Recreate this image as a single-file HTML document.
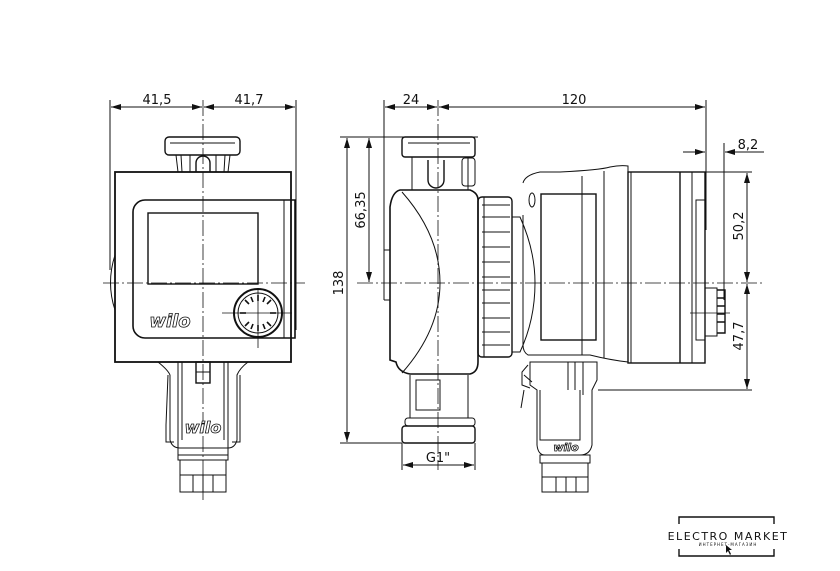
<!DOCTYPE html>
<html><head><meta charset="utf-8"><style>
html,body{margin:0;padding:0;background:#fff;}
svg{display:block;}
text{font-family:"DejaVu Sans","Liberation Sans",sans-serif;fill:#111;}
</style></head><body>
<svg width="840" height="571" viewBox="0 0 840 571" xmlns="http://www.w3.org/2000/svg">
<defs>
<marker id="a" viewBox="0 0 10 6" refX="10" refY="3" markerWidth="10" markerHeight="6" orient="auto-start-reverse" markerUnits="userSpaceOnUse"><path d="M0,0 L10,3 L0,6 z" fill="#111"/></marker>
</defs>
<g stroke="#111" fill="none" stroke-width="1">
<!-- ===== LEFT VIEW ===== -->
<line x1="110" y1="100" x2="110" y2="270"/>
<line x1="296" y1="100" x2="296" y2="330"/>
<line x1="111" y1="107" x2="202" y2="107" marker-start="url(#a)" marker-end="url(#a)"/>
<line x1="204" y1="107" x2="295" y2="107" marker-start="url(#a)" marker-end="url(#a)"/>
<line x1="203" y1="100" x2="203" y2="500" stroke-dasharray="16,3,2,3" stroke-width="0.8"/>
<line x1="103" y1="283" x2="305" y2="283" stroke-dasharray="16,3,2,3" stroke-width="0.8"/>
<!-- top nut -->
<rect x="165" y="137" width="75" height="18" rx="4" stroke-width="1.4"/>
<line x1="170" y1="143" x2="235" y2="143"/>
<path d="M176 155 L178 172 M181 155 L182 172 M225 155 L224 172 M230 155 L228 172 M190 155 V172 M216 155 V172" />
<path d="M196 172 V163 a7 7 0 0 1 14 0 V172" stroke-width="1.4"/>
<!-- main box -->
<rect x="115" y="172" width="176" height="190" stroke-width="1.8"/>
<path d="M145 200 H295 V338 H145 a12 12 0 0 1 -12 -12 V212 a12 12 0 0 1 12 -12 z" stroke-width="1.6"/>
<line x1="284" y1="200" x2="284" y2="338"/>
<rect x="148" y="213" width="110" height="71" stroke-width="1.4"/>
<path d="M115 255 Q106 283 115 310" />
<circle cx="258" cy="313" r="24" stroke-width="2"/>
<circle cx="258" cy="313" r="20"/>
<g stroke-width="1.6">
<line x1="258" y1="295" x2="258" y2="301"/><line x1="258" y1="325" x2="258" y2="331"/>
<line x1="240" y1="313" x2="246" y2="313"/><line x1="270" y1="313" x2="276" y2="313"/>
<line x1="245" y1="300" x2="249" y2="304"/><line x1="267" y1="322" x2="271" y2="326"/>
<line x1="271" y1="300" x2="267" y2="304"/><line x1="249" y1="322" x2="245" y2="326"/>
<line x1="251" y1="297" x2="253" y2="302"/><line x1="263" y1="324" x2="265" y2="329"/>
<line x1="265" y1="297" x2="263" y2="302"/><line x1="253" y1="324" x2="251" y2="329"/>
</g>
<line x1="222" y1="313" x2="292" y2="313" stroke-width="0.8"/>
<line x1="258" y1="290" x2="258" y2="348" stroke-width="0.8"/>
<!-- bottom connector -->
<path d="M158 362 Q168 370 170 375 V440 Q172 448 180 448 H228 Q235 448 237 440 V375 Q240 368 248 362"/>
<path d="M168 375 L166 425 V442 H174 M240 375 L240 425 V442 H232"/>
<path d="M178 362 V455 M228 362 V455 M182 362 V440 M224 362 V440"/>
<rect x="196" y="362" width="14" height="21" stroke-width="1.4"/>
<line x1="196" y1="372" x2="210" y2="372"/>
<rect x="178" y="455" width="50" height="5"/>
<rect x="180" y="460" width="46" height="32"/>
<path d="M180 475 H226 M193 475 V492 M203 475 V492 M213 475 V492"/>
<!-- ===== RIGHT VIEW ===== -->
<line x1="384" y1="100" x2="384" y2="300"/>
<line x1="438" y1="100" x2="438" y2="470" stroke-dasharray="16,3,2,3" stroke-width="0.8"/>
<line x1="706" y1="100" x2="706" y2="230"/>
<line x1="385" y1="107" x2="437" y2="107" marker-start="url(#a)" marker-end="url(#a)"/>
<line x1="439" y1="107" x2="705" y2="107" marker-start="url(#a)" marker-end="url(#a)"/>
<line x1="340" y1="137" x2="478" y2="137"/>
<line x1="340" y1="443" x2="402" y2="443"/>
<line x1="347" y1="138" x2="347" y2="442" marker-start="url(#a)" marker-end="url(#a)"/>
<line x1="369" y1="138" x2="369" y2="282" marker-start="url(#a)" marker-end="url(#a)"/>
<line x1="357" y1="283" x2="765" y2="283" stroke-dasharray="16,3,2,3" stroke-width="0.8"/>
<line x1="724" y1="143" x2="724" y2="300"/>
<line x1="683" y1="152" x2="705" y2="152" marker-end="url(#a)"/>
<line x1="764" y1="152" x2="725" y2="152" marker-end="url(#a)"/>
<line x1="690" y1="172" x2="752" y2="172"/>
<line x1="598" y1="390" x2="752" y2="390"/>
<line x1="747" y1="173" x2="747" y2="282" marker-start="url(#a)" marker-end="url(#a)"/>
<line x1="747" y1="284" x2="747" y2="389" marker-start="url(#a)" marker-end="url(#a)"/>
<line x1="402" y1="443" x2="402" y2="470"/>
<line x1="475" y1="443" x2="475" y2="470"/>
<line x1="403" y1="465" x2="474" y2="465" marker-start="url(#a)" marker-end="url(#a)"/>
<!-- top nut -->
<rect x="402" y="137" width="73" height="20" rx="3" stroke-width="1.4"/>
<line x1="408" y1="143" x2="470" y2="143"/>
<path d="M412 157 V190 M468 157 V190"/>
<path d="M428 160 V180 a8 8 0 0 0 16 0 V160" stroke-width="1.4"/>
<rect x="462" y="158" width="13" height="28" rx="3"/>
<!-- body -->
<path d="M400 190 H470 Q478 193 478 200 V362 Q478 372 470 374 H410 Q398 372 396 362 L390 360 V207 Q392 192 400 190 z" stroke-width="1.6"/>
<path d="M402 192 Q440 235 440 283 Q440 330 402 373"/>
<line x1="384" y1="250" x2="390" y2="250"/><line x1="384" y1="300" x2="390" y2="300"/>
<!-- ring -->
<rect x="478" y="197" width="34" height="160" rx="4" stroke-width="1.4"/>
<path d="M482 205 H510 M482 217 H510 M482 232 H510 M482 247 H510 M482 262 H510 M482 277 H510 M482 290 H510 M482 303 H510 M482 318 H510 M482 332 H510 M482 345 H510"/>
<line x1="484" y1="197" x2="484" y2="357"/>
<!-- flange / motor -->
<path d="M512 217 H520 Q535 250 535 283 Q535 320 520 352 H512"/>
<path d="M523 183 Q525 175 540 172 H560 Q600 170 610 167 Q620 165 628 166 V362 Q610 360 590 355 H528 Q523 352 523 345 V215"/>
<ellipse cx="532" cy="200" rx="3" ry="7"/>
<rect x="541" y="194" width="55" height="146" stroke-width="1.4"/>
<line x1="582" y1="176" x2="582" y2="355"/>
<line x1="604" y1="171" x2="604" y2="358"/>
<rect x="628" y="172" width="77" height="191" stroke-width="1.4"/>
<line x1="631" y1="172" x2="631" y2="363"/>
<line x1="680" y1="172" x2="680" y2="363" stroke-width="1.4"/>
<line x1="692" y1="172" x2="692" y2="363"/>
<rect x="696" y="200" width="9" height="140"/>
<rect x="705" y="288" width="12" height="48"/>
<path d="M717 290 H725 V333 H717 M717 298 H725 M717 306 H725 M717 314 H725 M717 322 H725" stroke-width="1.4"/>
<line x1="690" y1="313" x2="730" y2="313" stroke-width="0.8"/>
<!-- bottom pipe -->
<path d="M410 375 V418 M468 375 V418 M416 380 H440 V410 H416 z"/>
<rect x="405" y="418" width="70" height="8" rx="3"/>
<rect x="402" y="426" width="73" height="17" rx="3" stroke-width="1.4"/>
<!-- bottom connector right -->
<path d="M530 362 H597 V380 L592 390 V445 Q590 455 580 455 H545 Q538 455 537 445 V390 L530 385 z"/>
<path d="M540 390 V440 H580 V390"/>
<path d="M568 362 V390 M575 362 V390 M583 362 V395"/>
<path d="M528 365 L522 372 V385 L530 388 M524 375 L532 382 M524 390 L521 408"/>
<rect x="540" y="455" width="50" height="8"/>
<rect x="542" y="463" width="46" height="29"/>
<path d="M542 477 H588 M556 477 V492 M566 477 V492 M576 477 V492"/>
<!-- logo bracket -->
<path d="M679 524 V517 H774 V524 M679 549 V556 H774 V549" stroke-width="1.4"/>
</g>
<g font-size="13">
<text x="157" y="104" text-anchor="middle">41,5</text>
<text x="249" y="104" text-anchor="middle">41,7</text>
<text x="411" y="104" text-anchor="middle">24</text>
<text x="574" y="104" text-anchor="middle">120</text>
<text x="748" y="149" text-anchor="middle">8,2</text>
<text x="438" y="462" text-anchor="middle">G1"</text>
<text transform="translate(343,283) rotate(-90)" text-anchor="middle">138</text>
<text transform="translate(365,210) rotate(-90)" text-anchor="middle">66,35</text>
<text transform="translate(743,226) rotate(-90)" text-anchor="middle">50,2</text>
<text transform="translate(743,336) rotate(-90)" text-anchor="middle">47,7</text>
</g>
<g font-style="italic" font-weight="bold" fill="#fff" stroke="#111" stroke-width="0.8">
<text x="170" y="327" font-size="18" text-anchor="middle" style="fill:#fff">wilo</text>
<text x="203" y="433" font-size="16" text-anchor="middle" style="fill:#fff">wilo</text>
<text x="566" y="451" font-size="11" text-anchor="middle" style="fill:#fff">wilo</text>
</g>
<text x="728" y="540" font-size="11" text-anchor="middle" letter-spacing="1.5">ELECTRO MARKET</text>
<text x="728" y="546" font-size="4" text-anchor="middle" letter-spacing="1">ИНТЕРНЕТ-МАГАЗИН</text>
<path d="M726 545 L726 553 L728 551 L730 555 L731 554 L729 550 L732 550 z" fill="#111"/>
</svg>
</body></html>
